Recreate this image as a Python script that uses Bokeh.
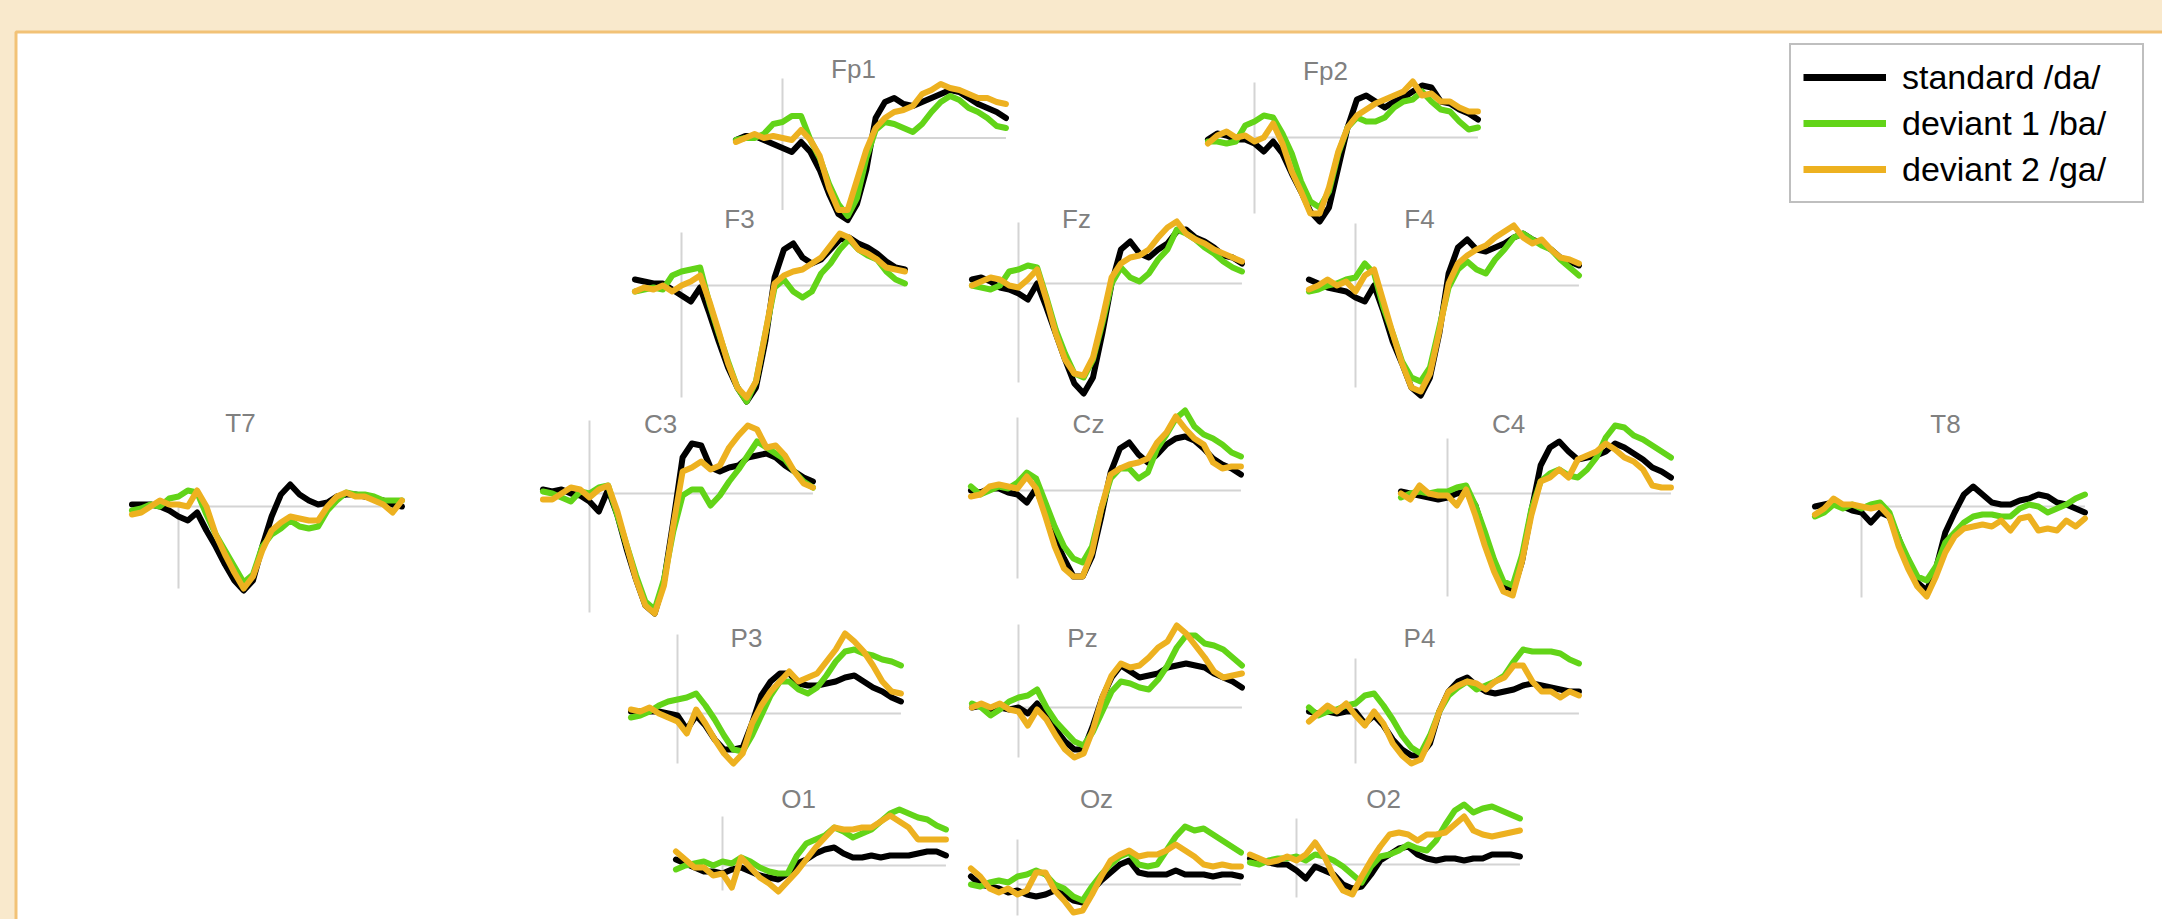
from bokeh.plotting import figure
from bokeh.models import Range1d, Legend, LegendItem, GlobalInlineStyleSheet
from bokeh.core.properties import value
from bokeh.embed import file_html
from bokeh.resources import INLINE

# ---------------- data (time in ms, amplitude in uV) ----------------
times = [-100, -80, -60, -40, -20, 0, 20, 40, 60, 80, 100, 120, 140, 160, 180,
         200, 220, 240, 260, 280, 300, 320, 340, 360, 380, 400, 420, 440, 460, 480]

channels = ["Fp1", "Fp2", "F3", "Fz", "F4", "T7", "C3", "Cz", "C4", "T8",
            "P3", "Pz", "P4", "O1", "Oz", "O2"]

series_names = ["standard /da/", "deviant 1 /ba/", "deviant 2 /ga/"]

fp1_std = [-0.1, 0.1, 0.1, -0.1, -0.3, -0.5, -0.7, -0.2, -0.7, -1.6, -2.8, -3.8, -4.1, -3.3, -1.6, 1.0, 1.8, 2.0, 1.7, 1.6, 1.8, 2.0, 2.2, 2.4, 2.3, 2.0, 1.7, 1.5, 1.3, 1.0]
fp1_dev1 = [-0.1, 0.0, 0.0, 0.2, 0.7, 0.8, 1.1, 1.1, -0.1, -1.0, -2.3, -3.3, -3.9, -3.0, -1.0, 0.4, 0.8, 0.7, 0.5, 0.3, 0.7, 1.3, 1.8, 2.1, 1.9, 1.5, 1.3, 1.0, 0.6, 0.5]
fp1_dev2 = [-0.2, 0.0, 0.2, 0.0, 0.1, 0.0, -0.1, 0.4, -0.1, -0.9, -2.5, -3.6, -3.6, -2.1, -0.6, 0.5, 1.0, 1.3, 1.4, 1.6, 2.2, 2.4, 2.7, 2.5, 2.4, 2.2, 2.0, 2.0, 1.8, 1.7]

fp2_std = [-0.1, 0.2, 0.1, -0.1, -0.1, -0.3, -0.7, -0.2, -0.8, -1.8, -2.7, -3.7, -4.2, -3.5, -1.5, 0.5, 1.9, 2.1, 1.8, 1.5, 1.8, 2.0, 2.3, 2.6, 2.5, 1.8, 1.7, 1.4, 1.2, 0.9]
fp2_dev1 = [-0.2, -0.2, -0.3, -0.2, 0.6, 0.8, 1.1, 1.0, 0.2, -0.8, -2.2, -3.2, -3.5, -2.7, -0.8, 0.5, 1.0, 0.8, 0.8, 1.0, 1.5, 1.8, 1.9, 2.3, 1.8, 1.4, 1.3, 0.8, 0.4, 0.5]
fp2_dev2 = [-0.3, 0.1, 0.3, 0.0, 0.1, -0.2, 0.0, 0.7, -0.3, -1.7, -2.7, -3.8, -3.8, -2.5, -0.7, 0.5, 1.1, 1.4, 1.7, 1.9, 2.1, 2.3, 2.8, 2.1, 2.2, 1.8, 1.8, 1.5, 1.3, 1.3]

f3_std = [0.3, 0.2, 0.1, 0.1, -0.2, -0.5, -0.8, -0.1, -1.4, -2.8, -4.1, -5.1, -5.8, -5.1, -2.8, 0.4, 1.8, 2.1, 1.4, 1.1, 1.3, 1.8, 2.3, 2.4, 2.1, 1.9, 1.6, 1.2, 0.9, 0.8]
f3_dev1 = [-0.3, -0.2, -0.1, -0.2, 0.5, 0.7, 0.8, 0.9, -0.9, -2.4, -3.8, -5.1, -5.8, -4.8, -2.4, -0.1, 0.3, -0.3, -0.6, -0.3, 0.6, 1.1, 1.8, 2.3, 1.8, 1.5, 1.3, 0.7, 0.3, 0.1]
f3_dev2 = [-0.3, -0.1, -0.2, 0.0, -0.3, 0.0, 0.2, 0.5, -0.8, -2.3, -3.9, -5.1, -5.6, -4.8, -2.4, 0.1, 0.5, 0.7, 0.8, 1.1, 1.4, 2.0, 2.6, 2.4, 1.8, 1.6, 1.3, 0.9, 0.8, 0.7]

fz_std = [0.2, 0.3, 0.1, -0.2, -0.3, -0.5, -0.8, 0.0, -1.2, -2.5, -3.8, -5.0, -5.5, -4.7, -2.5, 0.0, 1.7, 2.1, 1.5, 1.3, 1.7, 2.0, 2.6, 2.7, 2.3, 2.1, 1.8, 1.4, 1.3, 1.0]
fz_dev1 = [-0.1, -0.2, -0.3, -0.1, 0.6, 0.7, 0.9, 0.8, -0.7, -2.3, -3.5, -4.5, -4.7, -3.8, -2.0, 0.0, 0.8, 0.3, 0.1, 0.5, 1.2, 1.7, 2.7, 2.5, 2.2, 1.8, 1.5, 1.1, 0.8, 0.6]
fz_dev2 = [-0.1, 0.1, 0.3, 0.2, -0.1, -0.2, 0.2, 0.7, -0.8, -2.5, -3.8, -4.5, -4.6, -3.7, -1.8, 0.3, 1.0, 1.3, 1.4, 1.7, 2.3, 2.8, 3.1, 2.5, 2.2, 2.0, 1.7, 1.5, 1.3, 1.1]

f4_std = [0.3, 0.1, -0.1, -0.2, -0.3, -0.6, -0.8, 0.0, -1.3, -2.8, -3.9, -5.1, -5.5, -4.6, -2.4, 0.6, 1.9, 2.3, 1.8, 1.7, 1.9, 2.1, 2.4, 2.6, 2.3, 2.1, 1.8, 1.4, 1.2, 1.0]
f4_dev1 = [-0.3, -0.2, 0.0, 0.1, 0.3, 0.4, 1.1, 0.6, -1.1, -2.4, -3.8, -4.6, -4.8, -4.1, -2.1, -0.1, 0.8, 1.2, 0.8, 0.6, 1.3, 1.8, 2.4, 2.6, 2.3, 2.0, 1.8, 1.3, 0.9, 0.5]
f4_dev2 = [-0.2, 0.0, 0.3, 0.0, 0.2, -0.3, 0.5, 0.8, -0.8, -2.4, -3.9, -5.1, -5.3, -4.4, -2.3, 0.1, 1.1, 1.5, 1.8, 2.0, 2.4, 2.7, 3.0, 2.4, 2.1, 2.3, 1.8, 1.4, 1.3, 1.1]

t7_std = [0.1, 0.1, 0.1, 0.0, -0.2, -0.5, -0.7, -0.3, -1.2, -2.0, -2.9, -3.7, -4.2, -3.7, -2.0, -0.5, 0.6, 1.1, 0.6, 0.3, 0.1, 0.2, 0.5, 0.6, 0.6, 0.5, 0.4, 0.3, 0.1, 0.0]
t7_dev1 = [-0.2, -0.1, 0.1, 0.0, 0.4, 0.5, 0.8, 0.7, -0.4, -1.4, -2.2, -3.0, -3.8, -3.4, -2.0, -1.4, -1.1, -0.7, -1.0, -1.1, -1.0, -0.2, 0.3, 0.7, 0.6, 0.6, 0.5, 0.3, 0.3, 0.3]
t7_dev2 = [-0.4, -0.3, 0.0, 0.3, 0.1, 0.1, 0.0, 0.8, 0.0, -1.4, -2.4, -3.3, -4.1, -3.5, -2.2, -1.2, -0.8, -0.5, -0.6, -0.7, -0.7, 0.0, 0.5, 0.7, 0.5, 0.5, 0.3, 0.1, -0.3, 0.3]

c3_std = [0.2, 0.1, 0.2, 0.0, -0.1, -0.4, -0.9, 0.2, -1.1, -2.8, -4.3, -5.6, -6.0, -4.4, -1.4, 1.8, 2.5, 2.4, 1.3, 1.1, 1.3, 1.4, 1.8, 1.9, 2.0, 1.8, 1.4, 1.1, 0.8, 0.6]
c3_dev1 = [0.1, 0.0, -0.2, -0.4, 0.1, 0.0, 0.3, 0.4, -1.1, -2.6, -4.1, -5.4, -5.8, -4.3, -1.9, -0.1, 0.2, 0.2, -0.6, -0.1, 0.6, 1.2, 1.9, 2.6, 2.3, 2.0, 1.7, 1.1, 0.6, 0.3]
c3_dev2 = [-0.3, -0.3, 0.0, 0.3, 0.2, -0.2, 0.2, 0.4, -0.9, -2.6, -4.3, -5.6, -6.0, -4.6, -1.6, 1.1, 1.3, 1.6, 1.2, 1.4, 2.3, 2.9, 3.4, 3.2, 2.3, 2.4, 1.9, 1.1, 0.5, 0.3]

cz_std = [0.0, -0.1, 0.1, 0.1, -0.1, -0.2, -0.6, 0.1, -1.1, -2.4, -3.4, -4.3, -4.3, -3.3, -1.3, 0.9, 2.1, 2.4, 1.8, 1.4, 1.8, 2.3, 2.6, 2.7, 2.5, 2.1, 1.6, 1.3, 1.1, 0.8]
cz_dev1 = [0.2, -0.2, 0.0, 0.2, 0.1, 0.4, 0.9, 0.6, -0.6, -1.8, -2.8, -3.4, -3.6, -2.8, -0.9, 0.6, 1.1, 1.1, 0.6, 0.9, 2.1, 2.8, 3.6, 4.0, 3.2, 2.8, 2.6, 2.3, 1.9, 1.7]
cz_dev2 = [-0.3, -0.2, 0.2, 0.3, 0.2, 0.1, 0.7, 0.1, -1.3, -2.8, -3.9, -4.3, -4.3, -3.1, -0.9, 0.8, 1.1, 1.3, 1.4, 1.6, 2.4, 2.9, 3.7, 3.1, 2.6, 2.3, 1.4, 1.1, 1.2, 1.2]

c4_std = [0.1, 0.0, -0.1, -0.2, -0.3, -0.2, 0.0, 0.1, -0.6, -2.1, -3.4, -4.6, -4.9, -3.4, -0.9, 1.4, 2.3, 2.6, 2.1, 1.7, 1.8, 1.9, 2.1, 2.5, 2.3, 2.0, 1.7, 1.3, 1.1, 0.8]
c4_dev1 = [-0.2, 0.0, 0.1, 0.0, 0.1, 0.1, 0.3, 0.4, -0.6, -1.9, -3.3, -4.4, -4.6, -3.1, -0.8, 0.6, 1.0, 1.2, 0.9, 0.8, 1.2, 1.8, 2.8, 3.4, 3.3, 2.9, 2.7, 2.4, 2.1, 1.8]
c4_dev2 = [0.0, -0.3, 0.4, 0.0, -0.1, -0.1, -0.6, 0.2, -1.1, -2.6, -3.9, -4.9, -5.1, -3.4, -1.1, 0.6, 0.8, 1.2, 0.8, 1.7, 1.9, 2.1, 2.5, 2.2, 1.8, 1.6, 1.2, 0.4, 0.3, 0.3]

t8_std = [0.0, 0.1, 0.2, 0.0, -0.2, -0.3, -0.8, -0.3, -0.5, -1.6, -2.8, -3.8, -4.2, -3.1, -1.3, -0.3, 0.6, 1.0, 0.6, 0.2, 0.1, 0.1, 0.3, 0.4, 0.6, 0.5, 0.2, 0.1, -0.1, -0.3]
t8_dev1 = [-0.5, -0.3, 0.1, -0.1, 0.1, -0.1, 0.1, 0.2, -0.3, -1.6, -2.6, -3.5, -3.7, -3.0, -1.8, -1.3, -0.8, -0.5, -0.4, -0.4, -0.5, -0.5, -0.1, 0.1, 0.0, -0.3, -0.1, 0.1, 0.4, 0.6]
t8_dev2 = [-0.4, -0.1, 0.4, 0.1, 0.1, 0.0, -0.1, 0.0, -0.5, -2.0, -3.1, -4.0, -4.5, -3.5, -2.3, -1.5, -1.1, -1.0, -0.9, -1.0, -0.7, -1.2, -0.6, -0.5, -1.2, -1.1, -1.2, -0.7, -1.0, -0.6]

p3_std = [0.1, 0.1, 0.1, 0.1, 0.0, -0.1, -0.8, -0.1, -0.6, -1.3, -1.8, -1.8, -1.7, -0.5, 0.9, 1.6, 2.0, 2.0, 1.5, 1.4, 1.4, 1.5, 1.6, 1.8, 1.9, 1.6, 1.3, 1.1, 0.8, 0.6]
p3_dev1 = [-0.2, -0.1, 0.1, 0.4, 0.6, 0.7, 0.8, 1.0, 0.4, -0.3, -1.1, -1.8, -1.9, -1.1, -0.1, 0.9, 1.6, 1.6, 1.2, 1.0, 1.3, 1.9, 2.6, 3.1, 3.2, 3.0, 2.9, 2.7, 2.6, 2.4]
p3_dev2 = [0.2, 0.1, 0.3, 0.0, -0.2, -0.4, -1.0, 0.2, -0.5, -1.3, -2.0, -2.5, -2.0, -0.5, 0.4, 1.1, 1.6, 2.1, 1.6, 1.8, 2.0, 2.6, 3.2, 4.0, 3.6, 3.1, 2.4, 1.6, 1.1, 1.0]

pz_std = [0.0, 0.1, -0.1, 0.0, -0.1, 0.0, -0.3, 0.2, -0.4, -1.1, -1.7, -2.1, -2.1, -0.9, 0.5, 1.5, 2.1, 1.8, 1.5, 1.6, 1.7, 2.0, 2.1, 2.2, 2.1, 2.0, 1.7, 1.5, 1.3, 1.0]
pz_dev1 = [0.2, 0.0, -0.4, -0.1, 0.3, 0.5, 0.6, 0.9, 0.0, -0.7, -1.2, -1.7, -1.9, -1.2, -0.2, 0.8, 1.3, 1.2, 1.0, 0.9, 1.4, 2.1, 3.0, 3.6, 3.6, 3.2, 3.1, 2.9, 2.5, 2.1]
pz_dev2 = [0.0, 0.2, 0.0, 0.2, -0.1, -0.2, -0.9, -0.1, -0.6, -1.4, -2.1, -2.5, -2.3, -1.1, 0.5, 1.6, 2.2, 2.0, 2.1, 2.5, 3.0, 3.3, 4.1, 3.7, 3.1, 2.5, 1.8, 1.5, 1.6, 1.7]

p4_std = [0.1, 0.0, 0.1, 0.0, 0.1, 0.1, -0.5, -0.1, -0.6, -1.3, -1.8, -2.1, -2.1, -1.5, 0.1, 1.1, 1.6, 1.8, 1.4, 1.1, 1.0, 1.1, 1.2, 1.4, 1.5, 1.4, 1.3, 1.2, 1.1, 1.1]
p4_dev1 = [0.3, -0.1, 0.1, 0.2, 0.4, 0.5, 0.9, 1.0, 0.4, -0.3, -1.1, -1.7, -2.0, -1.1, 0.1, 0.9, 1.3, 1.6, 1.2, 1.4, 1.6, 1.9, 2.6, 3.2, 3.1, 3.1, 3.1, 3.0, 2.7, 2.5]
p4_dev2 = [-0.4, 0.0, 0.4, 0.1, 0.5, -0.1, -0.6, 0.1, -0.5, -1.5, -2.1, -2.5, -2.3, -1.3, 0.1, 1.1, 1.4, 1.6, 1.5, 1.2, 1.6, 1.8, 2.4, 2.4, 1.6, 1.1, 1.1, 0.8, 1.1, 0.9]

o1_std = [0.3, 0.1, -0.1, -0.3, -0.3, -0.4, -0.2, -0.1, -0.3, -0.5, -0.6, -0.7, -0.4, 0.1, 0.3, 0.6, 0.8, 0.9, 0.6, 0.4, 0.4, 0.5, 0.4, 0.5, 0.5, 0.5, 0.6, 0.7, 0.7, 0.5]
o1_dev1 = [-0.2, 0.0, 0.1, 0.2, 0.0, 0.2, 0.1, 0.4, 0.2, -0.1, -0.3, -0.4, -0.4, 0.5, 1.1, 1.3, 1.5, 1.9, 1.7, 1.4, 1.6, 1.8, 2.2, 2.6, 2.8, 2.6, 2.4, 2.3, 2.0, 1.8]
o1_dev2 = [0.7, 0.3, -0.1, -0.1, -0.5, -0.4, -1.1, 0.4, -0.1, -0.6, -0.9, -1.3, -0.8, -0.3, 0.3, 0.9, 1.4, 1.9, 1.8, 1.8, 1.9, 1.9, 2.2, 2.5, 2.2, 1.9, 1.3, 1.3, 1.3, 1.3]

oz_std = [0.4, 0.0, -0.1, -0.2, -0.4, -0.3, -0.5, -0.6, -0.5, -0.3, -0.5, -0.8, -0.9, -0.3, 0.2, 0.6, 1.0, 1.2, 0.6, 0.5, 0.5, 0.5, 0.7, 0.5, 0.5, 0.5, 0.4, 0.5, 0.5, 0.4]
oz_dev1 = [0.0, -0.1, 0.1, 0.2, 0.1, 0.4, 0.5, 0.7, 0.5, 0.0, -0.2, -0.6, -0.8, -0.1, 0.5, 1.0, 1.4, 1.6, 1.0, 0.9, 1.0, 1.7, 2.4, 2.9, 2.7, 2.8, 2.5, 2.2, 1.9, 1.6]
oz_dev2 = [0.8, 0.4, -0.2, -0.4, -0.2, -0.5, -0.3, 0.6, 0.6, -0.3, -0.8, -1.4, -1.3, -0.5, 0.4, 1.2, 1.5, 1.7, 1.4, 1.5, 1.5, 1.7, 2.0, 1.7, 1.4, 1.0, 0.9, 1.0, 0.9, 0.9]

o2_std = [0.3, 0.2, 0.1, 0.0, 0.0, -0.3, -0.7, -0.1, -0.3, -0.5, -1.0, -1.2, -1.1, -0.5, 0.2, 0.5, 0.8, 0.9, 0.5, 0.3, 0.2, 0.3, 0.3, 0.2, 0.3, 0.3, 0.5, 0.5, 0.5, 0.4]
o2_dev1 = [0.1, 0.0, 0.2, 0.3, 0.3, 0.4, 0.2, 0.5, 0.4, 0.2, -0.1, -0.5, -0.9, -0.1, 0.4, 0.5, 0.7, 1.0, 0.8, 0.7, 1.2, 2.0, 2.7, 3.0, 2.6, 2.8, 2.9, 2.7, 2.5, 2.3]
o2_dev2 = [0.5, 0.3, 0.1, 0.2, 0.4, 0.2, 0.5, 1.1, 0.4, -0.6, -1.3, -1.5, -0.6, 0.2, 0.9, 1.5, 1.6, 1.5, 1.2, 1.5, 1.5, 1.6, 2.0, 2.4, 1.7, 1.5, 1.4, 1.5, 1.6, 1.7]

waves = {
    "Fp1": (fp1_std, fp1_dev1, fp1_dev2), "Fp2": (fp2_std, fp2_dev1, fp2_dev2),
    "F3": (f3_std, f3_dev1, f3_dev2), "Fz": (fz_std, fz_dev1, fz_dev2), "F4": (f4_std, f4_dev1, f4_dev2),
    "T7": (t7_std, t7_dev1, t7_dev2), "C3": (c3_std, c3_dev1, c3_dev2), "Cz": (cz_std, cz_dev1, cz_dev2),
    "C4": (c4_std, c4_dev1, c4_dev2), "T8": (t8_std, t8_dev1, t8_dev2),
    "P3": (p3_std, p3_dev1, p3_dev2), "Pz": (pz_std, pz_dev1, pz_dev2), "P4": (p4_std, p4_dev1, p4_dev2),
    "O1": (o1_std, o1_dev1, o1_dev2), "Oz": (oz_std, oz_dev1, oz_dev2), "O2": (o2_std, o2_dev1, o2_dev2),
}
for ch, trio in waves.items():
    for k, arr in enumerate(trio):
        if len(arr) != len(times):
            raise ValueError(f"{ch} series {k} has {len(arr)} values")

# ---------------- layout (page pixels) ----------------
W, H = 2162, 919
PX_PER_MS = 0.4655
PX_PER_UV = 20.0

origin_x = {"Fp1": 782, "Fp2": 1254, "F3": 681, "Fz": 1018, "F4": 1355, "T7": 178, "C3": 589,
            "Cz": 1017, "C4": 1447, "T8": 1861, "P3": 677, "Pz": 1018, "P4": 1355,
            "O1": 722, "Oz": 1017, "O2": 1296}
origin_y = {"Fp1": 137.5, "Fp2": 137, "F3": 285, "Fz": 283, "F4": 285, "T7": 506, "C3": 493,
            "Cz": 490, "C4": 493, "T8": 506, "P3": 713, "Pz": 707, "P4": 713,
            "O1": 865, "Oz": 884, "O2": 864}
vline_extent = {"Fp1": (2.98, -3.6), "Fp2": (2.75, -3.8), "F3": (2.65, -5.6), "Fz": (3.05, -4.95),
                "F4": (3.1, -5.1), "T7": (0.0, -4.1), "C3": (3.65, -5.95), "Cz": (3.65, -4.4),
                "C4": (2.75, -5.15), "T8": (0.0, -4.55), "P3": (3.95, -2.5), "Pz": (4.15, -2.5),
                "P4": (2.75, -2.5), "O1": (2.45, -1.25), "Oz": (2.25, -1.55), "O2": (2.3, -1.65)}
label_pos = {"Fp1": (853, 68), "Fp2": (1325, 70), "F3": (739, 218), "Fz": (1076, 218),
             "F4": (1419, 218), "T7": (240, 422), "C3": (660, 423), "Cz": (1088, 423),
             "C4": (1508, 423), "T8": (1945, 423), "P3": (746, 637), "Pz": (1082, 637),
             "P4": (1419, 637), "O1": (798, 798), "Oz": (1096, 798), "O2": (1383, 798)}

colors = ["#000000", "#62D418", "#EDB120"]
PAGE_BG = "#F9E9CC"
FRAME_COL = "#F2C276"
AXIS_COL = "#D4D4D4"
FONT = "Liberation Sans"

p = figure(width=W, height=H, output_backend="svg", toolbar_location=None,
           x_axis_type=None, y_axis_type=None,
           x_range=Range1d(0, W), y_range=Range1d(H, 0),
           min_border=0, outline_line_color=None)
p.grid.visible = False
p.background_fill_color = PAGE_BG
p.border_fill_color = PAGE_BG
p.stylesheets = [GlobalInlineStyleSheet(
    css="html, body { margin: 0; padding: 0; overflow: hidden; background-color: %s; }" % PAGE_BG)]

# white panel with orange frame (extends beyond the window on the right/bottom)
p.quad(left=[15.5], right=[W + 20], top=[31.5], bottom=[H + 20],
       fill_color="white", line_color=FRAME_COL, line_width=3)

for ch in channels:
    x0, y0 = origin_x[ch], origin_y[ch]
    p.extra_x_ranges[ch] = Range1d(-x0 / PX_PER_MS, (W - x0) / PX_PER_MS)
    p.extra_y_ranges[ch] = Range1d((y0 - H) / PX_PER_UV, y0 / PX_PER_UV)
    top, bot = vline_extent[ch]
    p.segment(x0=[0], y0=[bot], x1=[0], y1=[top], line_color=AXIS_COL, line_width=2,
              x_range_name=ch, y_range_name=ch)
    p.segment(x0=[0], y0=[0], x1=[times[-1]], y1=[0], line_color=AXIS_COL, line_width=2,
              x_range_name=ch, y_range_name=ch)
    for k, arr in enumerate(waves[ch]):
        p.line(times, arr, line_color=colors[k], line_width=6, line_join="round",
               line_cap="round", x_range_name=ch, y_range_name=ch)

p.text(x=[label_pos[c][0] for c in channels], y=[label_pos[c][1] for c in channels],
       text=channels, text_align="center", text_baseline="middle",
       text_font=value(FONT), text_font_size="26px", text_color="#808080")

# legend (sample renderers lie outside the visible area; only their legend glyphs show)
items = []
for k, name in enumerate(series_names):
    r = p.line([-5000, -4990], [-5000, -5000], line_color=colors[k], line_width=7)
    items.append(LegendItem(label=name, renderers=[r]))
legend = Legend(items=items, location=(1789, 716), orientation="vertical",
                label_text_font=FONT, label_text_font_size="34px", label_text_color="black",
                glyph_width=83, glyph_height=40, label_height=40, label_width=228,
                spacing=6, padding=12, label_standoff=16, margin=0,
                border_line_color="#808080", border_line_width=2,
                background_fill_color="white", background_fill_alpha=1.0)
p.add_layout(legend)

open("out.html", "w").write(file_html(p, INLINE))
